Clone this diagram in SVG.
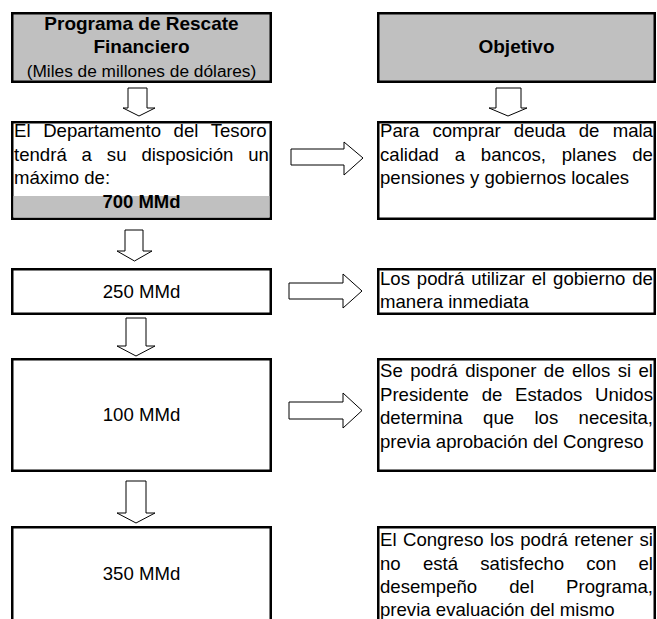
<svg xmlns="http://www.w3.org/2000/svg" width="657" height="619" viewBox="0 0 657 619">
<style>
.box{fill:#ffffff;stroke:#000000;stroke-width:2.5}
.hdr{fill:#c0c0c0;stroke:#000000;stroke-width:2.5}
.band{fill:#c0c0c0;stroke:none}
.arr{fill:#ffffff;stroke:#000000;stroke-width:1}
text{font-family:"Liberation Sans",Arial,sans-serif;fill:#000000}
.b{font-weight:bold;font-size:19px}
.t{font-size:18.6px}
.s{font-size:17.3px}
.c{text-anchor:middle}
</style>
<rect width="657" height="619" fill="#ffffff"/>
<g id="connectors">
<polygon class="arr" points="128,88 147,88 147,108 155,108 139,116 123,108 128,108"/>
<polygon class="arr" points="496,88 521,88 521,108 527,108 508,116 489,108 496,108"/>
<polygon class="arr" points="291,149 344,149 344,142 363,158 344,175 344,165 291,165"/>
<polygon class="arr" points="125,230 143,230 143,251 152,251 134.5,261 117,251 125,251"/>
<polygon class="arr" points="289,283 343,283 343,274 362,291 343,308 343,299 289,299"/>
<polygon class="arr" points="126,318 146,318 146,346 155,346 136,356 117,346 126,346"/>
<polygon class="arr" points="289,402 343,402 343,393 362,410.5 343,428 343,419 289,419"/>
<polygon class="arr" points="126,481 146,481 146,513 155,513 136,523 117,513 126,513"/>
</g>
<g id="header-programa">
<rect class="hdr" x="12.25" y="13.25" width="258.5" height="68.5"/>
<text class="b c" x="141.5" y="30">Programa de Rescate</text>
<text class="b c" x="141.5" y="53">Financiero</text>
<text class="s c" x="141.5" y="77">(Miles de millones de dólares)</text>
</g>
<g id="header-objetivo">
<rect class="hdr" x="378.25" y="13.25" width="276.5" height="68.5"/>
<text class="b c" x="516.5" y="53">Objetivo</text>
</g>
<g id="node-700">
<rect class="box" x="12.25" y="122.25" width="258.5" height="96.5"/>
<rect class="band" x="13.5" y="196" width="256" height="21.5"/>
<text class="t" x="14" y="137" style="word-spacing:7.46px">El Departamento del Tesoro</text>
<text class="t" x="14" y="160.5" style="word-spacing:9.73px">tendrá a su disposición un</text>
<text class="t" x="14" y="184">máximo de:</text>
<text class="b c" x="141.5" y="208" style="font-size:18.5px">700 MMd</text>
</g>
<g id="obj-700">
<rect class="box" x="378.25" y="122.25" width="276.5" height="96.5"/>
<text class="t" x="380" y="137" style="word-spacing:8.03px">Para comprar deuda de mala</text>
<text class="t" x="380" y="160.5" style="word-spacing:10.61px">calidad a bancos, planes de</text>
<text class="t" x="380" y="184">pensiones y gobiernos locales</text>
</g>
<g id="node-250">
<rect class="box" x="12.25" y="269.25" width="258.5" height="44.5"/>
<text class="t c" x="141.5" y="298">250 MMd</text>
</g>
<g id="obj-250">
<rect class="box" x="378.25" y="269.25" width="276.5" height="44.5"/>
<text class="t" x="380" y="285" style="word-spacing:1.67px">Los podrá utilizar el gobierno de</text>
<text class="t" x="380" y="308">manera inmediata</text>
</g>
<g id="node-100">
<rect class="box" x="12.25" y="359.25" width="258.5" height="111.5"/>
<text class="t c" x="141.5" y="421">100 MMd</text>
</g>
<g id="obj-100">
<rect class="box" x="378.25" y="359.25" width="276.5" height="111.5"/>
<text class="t" x="380" y="377" style="word-spacing:2.25px">Se podrá disponer de ellos si el</text>
<text class="t" x="380" y="400.5" style="word-spacing:7.6px">Presidente de Estados Unidos</text>
<text class="t" x="380" y="424" style="word-spacing:15.2px">determina que los necesita,</text>
<text class="t" x="380" y="447.5">previa aprobación del Congreso</text>
</g>
<g id="node-350">
<rect class="box" x="12.25" y="527.25" width="258.5" height="100"/>
<text class="t c" x="141.5" y="580">350 MMd</text>
</g>
<g id="obj-350">
<rect class="box" x="378.25" y="527.25" width="276.5" height="100"/>
<text class="t" x="380" y="546" style="word-spacing:1.26px">El Congreso los podrá retener si</text>
<text class="t" x="380" y="569.5" style="word-spacing:17.07px">no está satisfecho con el</text>
<text class="t" x="380" y="593" style="word-spacing:26.9px">desempeño del Programa,</text>
<text class="t" x="380" y="616">previa evaluación del mismo</text>
</g>
</svg>
